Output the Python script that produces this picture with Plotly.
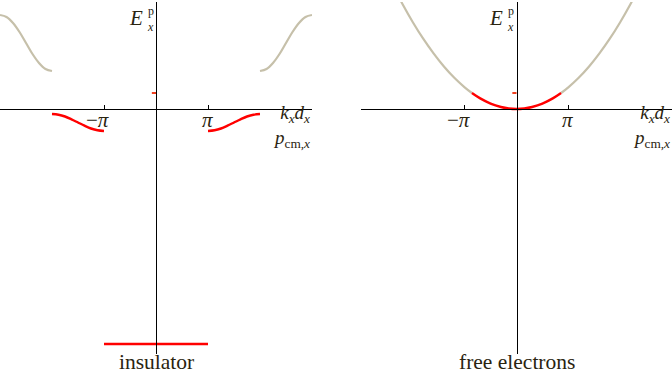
import plotly.graph_objects as go

# ---------------- data (k in units of pi, E in arbitrary units) ----------------
# insulator: empty (upper) band pieces
ins_up_left_k = [-3, -2.875, -2.75, -2.625, -2.5, -2.375, -2.25, -2.125, -2]
ins_up_left_E = [9.4, 9.2, 8.6, 7.7, 6.6, 5.5, 4.6, 4.0, 3.8]
ins_up_right_k = [2, 2.125, 2.25, 2.375, 2.5, 2.625, 2.75, 2.875, 3]
ins_up_right_E = [3.8, 4.0, 4.6, 5.5, 6.6, 7.7, 8.6, 9.2, 9.4]
# insulator: filled band pieces
ins_lo_left_k = [-2, -1.875, -1.75, -1.625, -1.5, -1.375, -1.25, -1.125, -1]
ins_lo_left_E = [-0.5, -0.57, -0.75, -1.03, -1.35, -1.67, -1.95, -2.13, -2.2]
ins_lo_right_k = [1, 1.125, 1.25, 1.375, 1.5, 1.625, 1.75, 1.875, 2]
ins_lo_right_E = [-2.2, -2.13, -1.95, -1.67, -1.35, -1.03, -0.75, -0.57, -0.5]
# insulator: deep flat band
ins_core_k = [-1, 1]
ins_core_E = [-23.5, -23.5]
# Fermi level marker (both panels)
fermi_k = [-0.08, 0]
fermi_E = [1.6, 1.6]

# free electrons: parabola, empty part
fe_gray_left_k = [-2.4, -2.2, -2.0, -1.8, -1.6, -1.4, -1.2, -1.0, -0.86]
fe_gray_left_E = [12.5, 10.5, 8.68, 7.03, 5.56, 4.25, 3.12, 2.17, 1.6]
fe_gray_right_k = [0.86, 1.0, 1.2, 1.4, 1.6, 1.8, 2.0, 2.2, 2.4]
fe_gray_right_E = [1.6, 2.17, 3.12, 4.25, 5.56, 7.03, 8.68, 10.5, 12.5]
# free electrons: filled part
fe_red_k = [-0.86, -0.7, -0.5, -0.3, -0.15, 0, 0.15, 0.3, 0.5, 0.7, 0.86]
fe_red_E = [1.6, 1.06, 0.54, 0.2, 0.05, 0, 0.05, 0.2, 0.54, 1.06, 1.6]

tick_vals = [-1, 1]
tick_text = ["\u2212<i>\u03c0</i>", "<i>\u03c0</i>"]
panel_titles = ["insulator", "free electrons"]

# ---------------- styling ----------------
GRAY = "#c6c0aa"
RED = "#ff0000"
FERMI = "#f04020"
TXT = "#2a2410"
FONT = "Liberation Serif"

W, H = 672, 377
XR = [-3, 3]
YR = [-24.5, 10.7]
ydom = [23 / H, 375 / H]
xdoms = [[0, 312 / W], [361 / W, 1]]

fig = go.Figure()

def line(x, y, color, width, xa, ya, spline=True):
    fig.add_trace(go.Scatter(
        x=x, y=y, mode="lines", xaxis=xa, yaxis=ya, hoverinfo="skip",
        line=dict(color=color, width=width, shape="spline" if spline else "linear", smoothing=1.0),
        showlegend=False, cliponaxis=True))

# left panel
line(ins_up_left_k, ins_up_left_E, GRAY, 2.2, "x", "y")
line(ins_up_right_k, ins_up_right_E, GRAY, 2.2, "x", "y")
line(ins_lo_left_k, ins_lo_left_E, RED, 2.4, "x", "y")
line(ins_lo_right_k, ins_lo_right_E, RED, 2.4, "x", "y")
line(ins_core_k, ins_core_E, RED, 2.4, "x", "y", spline=False)
line(fermi_k, fermi_E, FERMI, 2, "x", "y", spline=False)
# right panel
line(fe_gray_left_k, fe_gray_left_E, GRAY, 2.2, "x2", "y2")
line(fe_gray_right_k, fe_gray_right_E, GRAY, 2.2, "x2", "y2")
line(fe_red_k, fe_red_E, RED, 2.4, "x2", "y2")
line(fermi_k, fermi_E, FERMI, 2, "x2", "y2", spline=False)

def pos_of_zero(rng, dom):
    return dom[0] + (0 - rng[0]) / (rng[1] - rng[0]) * (dom[1] - dom[0])

annotations = []
for i, (xa, ya) in enumerate([("x", "y"), ("x2", "y2")]):
    sfx = "" if i == 0 else "2"
    xpos0 = pos_of_zero(XR, xdoms[i])
    ypos0 = pos_of_zero(YR, ydom)
    fig.layout["xaxis" + sfx] = dict(
        domain=xdoms[i], range=XR, anchor="free", position=ypos0, automargin=False,
        showline=True, linecolor="black", linewidth=1,
        ticks="inside", ticklen=4, tickcolor="black", tickwidth=1,
        tickvals=tick_vals, showticklabels=False,
        showgrid=False, zeroline=False, fixedrange=True)
    fig.layout["yaxis" + sfx] = dict(
        domain=ydom, range=YR, anchor="free", position=xpos0, automargin=False,
        showline=True, linecolor="black", linewidth=1,
        showticklabels=False, ticks="", showgrid=False, zeroline=False, fixedrange=True)
    # tick labels (pi glyph under the tick, minus sign hanging to the left)
    for tv, tt in zip(tick_vals, tick_text):
        annotations.append(dict(
            x=tv, y=0, xref=xa, yref=ya, text=tt, showarrow=False,
            xanchor="right", yanchor="top", xshift=7, yshift=3,
            font=dict(family=FONT, size=21, color=TXT)))
    # axis labels
    annotations += [
        dict(x=-0.22, y=9.1, xref=xa, yref=ya, text="<i>E</i>", showarrow=False,
             xanchor="right", yanchor="middle", font=dict(family=FONT, size=21, color=TXT)),
        dict(x=-0.22, y=9.0, xref=xa, yref=ya, text="p<br><i>x</i>", showarrow=False,
             xanchor="left", yanchor="middle", align="left",
             font=dict(family=FONT, size=12, color=TXT)),
        dict(x=3.0, y=-1.7, xref=xa, yref=ya,
             text="<i>k</i><sub><i>x</i></sub><i>d</i><sub><i>x</i></sub><br>"
                  "<i>p</i><sub>cm,<i>x</i></sub>",
             showarrow=False, align="right",
             xanchor="right", yanchor="middle", font=dict(family=FONT, size=19, color=TXT)),
        dict(x=0, y=0.003, xref=xa, yref="paper", text=panel_titles[i], showarrow=False,
             xanchor="center", yanchor="bottom", font=dict(family=FONT, size=21.5, color=TXT)),
    ]

fig.update_layout(
    width=W, height=H, autosize=False,
    margin=dict(l=0, r=0, t=0, b=0, autoexpand=False),
    paper_bgcolor="white", plot_bgcolor="rgba(0,0,0,0)",
    annotations=annotations, showlegend=False)

fig.write_html("out.html", config={"displayModeBar": False},
               post_script="document.body.style.margin='0';document.body.style.padding='0';")
